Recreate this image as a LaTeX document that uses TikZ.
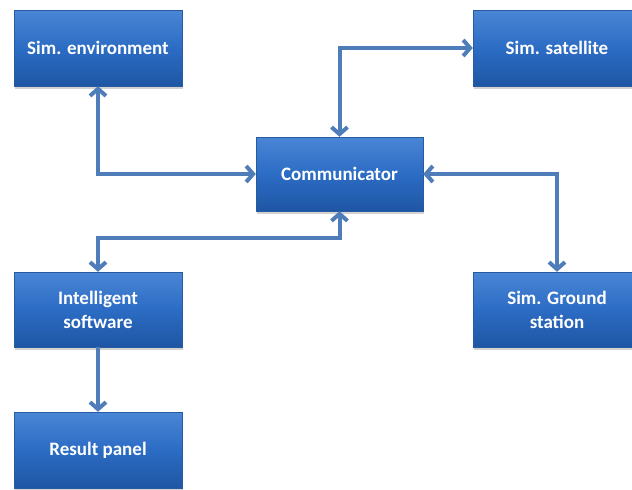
\documentclass[tikz,border=0pt]{standalone}
\usepackage{fontspec}
\setmainfont{Carlito}
\usetikzlibrary{arrows.meta,shadows,calc}
\definecolor{boxtop}{RGB}{74,134,214}
\definecolor{boxmid}{RGB}{44,108,196}
\definecolor{boxbot}{RGB}{30,86,164}
\definecolor{boxedge}{RGB}{40,90,160}
\definecolor{linkcol}{RGB}{79,125,185}
\tikzset{
  blockbox/.style={rectangle, minimum width=168pt, minimum height=75pt,
    top color=boxtop, bottom color=boxbot, middle color=boxmid,
    draw=boxedge, line width=0.4pt,
    text=white, align=center,
    font=\fontsize{19}{24}\selectfont\bfseries,
    drop shadow={opacity=0.35, shadow xshift=1pt, shadow yshift=-2.5pt}},
  link/.style={draw=linkcol, line width=4pt,
    arrows={-Straight Barb[length=7pt,width=16pt]}},
  dlink/.style={draw=linkcol, line width=4pt,
    arrows={Straight Barb[length=7pt,width=16pt]-Straight Barb[length=7pt,width=16pt]}}
}
\begin{document}
\begin{tikzpicture}[x=1pt,y=-1pt]
\useasboundingbox (0,0) rectangle (632,490);
\fill[white] (0,0) rectangle (632,490);
\clip (0,0) rectangle (632,490);
\node[blockbox, minimum height=76pt] (env) at (98,48) {Sim. environment};
\node[blockbox, minimum width=167pt, minimum height=74pt] (comm) at (339.5,174) {Communicator};
\node[blockbox, minimum height=76pt] (sat) at (557,48) {Sim. satellite};
\node[blockbox] (intel) at (98,309.5) {Intelligent\\software};
\node[blockbox, minimum height=76pt] (result) at (98,450) {Result panel};
\node[blockbox] (ground) at (557,309.5) {Sim. Ground\\station};
\coordinate (j) at (98,238);
\draw[dlink] (env.south) |- (comm.west);
\draw[dlink] (comm.north) |- (sat.west);
\draw[dlink] (comm.east) -| (ground.north);
\draw[dlink] (comm.south) |- (j) -- (intel.north);
\draw[link] (intel.south) -- (result.north);
\end{tikzpicture}
\end{document}
